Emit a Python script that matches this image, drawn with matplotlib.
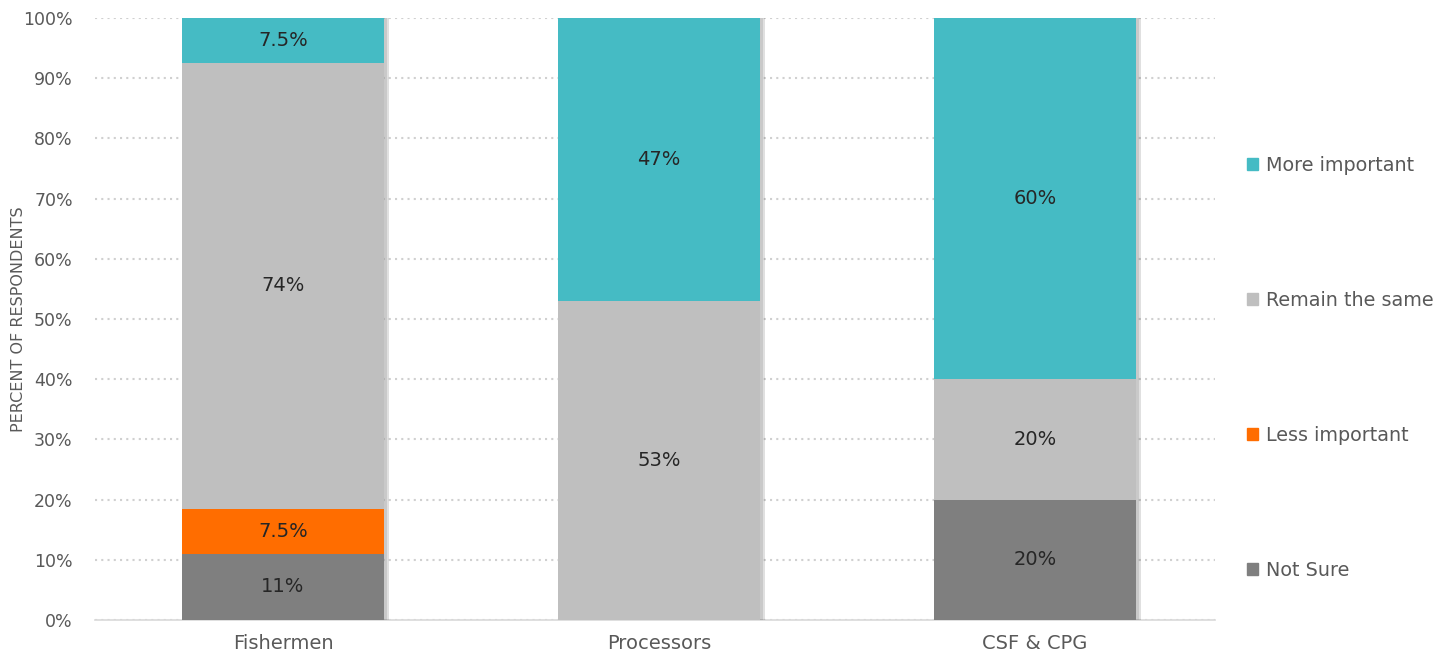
import numpy as np
import matplotlib
matplotlib.use('Agg')
import matplotlib.pyplot as plt
import matplotlib.patheffects as pe
from matplotlib.patches import Patch

# survey shares per group, percent
groups = ['Fishermen', 'Processors', 'CSF & CPG']
series = ['Not Sure', 'Less important', 'Remain the same', 'More important']
not_sure = [11, 0, 20]
less_important = [7.5, 0, 0]
remain_same = [74, 53, 20]
more_important = [7.5, 47, 60]
label_text = [['11%', '', '20%'],
              ['7.5%', '', ''],
              ['74%', '53%', '20%'],
              ['7.5%', '47%', '60%']]
colors = ['#7F7F7F', '#FF6D00', '#BFBFBF', '#45BBC4']

plt.rcParams['font.family'] = ['DejaVu Sans']
fig = plt.figure(figsize=(14.53, 6.63), dpi=100)
ax = fig.add_axes([0.0654, 0.0649, 0.7710, 0.9080])

x = np.arange(len(groups))
bottom = np.zeros(len(groups))
shadow = [pe.SimplePatchShadow(offset=(4, 0), shadow_rgbFace='#000000', alpha=0.12),
          pe.SimplePatchShadow(offset=(2, 0), shadow_rgbFace='#000000', alpha=0.10),
          pe.Normal()]
for vals, name, col, labs in zip([not_sure, less_important, remain_same, more_important],
                                 series, colors, label_text):
    vals = np.array(vals, dtype=float)
    bars = ax.bar(x, vals, 0.537, bottom=bottom, color=col, zorder=3)
    for b in bars:
        b.set_path_effects(shadow)
    for i, v in enumerate(vals):
        if v > 0 and labs[i]:
            ax.text(x[i], bottom[i] + v / 2, labs[i], ha='center', va='center',
                    fontsize=14, color='#262626', zorder=4)
    bottom += vals

ax.set_xlim(-0.5, 2.48)
ax.set_ylim(0, 100)
ax.set_yticks(np.arange(0, 101, 10))
ax.set_yticklabels([f'{t}%' for t in range(0, 101, 10)])
ax.set_xticks(x)
ax.set_xticklabels(groups)
ax.tick_params(axis='both', length=0, colors='#595959')
ax.tick_params(axis='x', pad=10, labelsize=14)
ax.tick_params(axis='y', pad=16, labelsize=12.5)
ax.yaxis.grid(True, linestyle=(0, (1.0, 2.0)), color='#D0D0D0', linewidth=1.5, zorder=0)
ax.set_axisbelow(True)
for s in ['top', 'right', 'left']:
    ax.spines[s].set_visible(False)
ax.spines['bottom'].set_color('#D9D9D9')
ax.spines['bottom'].set_linewidth(1.2)
ax.set_ylabel('PERCENT OF RESPONDENTS', fontsize=11.5, color='#595959')
ax.yaxis.set_label_coords(-0.062, 0.5)

handles = [Patch(color=c, label=n) for c, n in zip(colors, series)]
leg = ax.legend(handles=handles[::-1], loc='center left', bbox_to_anchor=(1.013, 0.4186),
                frameon=False, fontsize=13.8, labelspacing=6.05, handlelength=0.55,
                handleheight=0.55, handletextpad=0.45, labelcolor='#595959')

fig.savefig('out.png', dpi=100, facecolor='white')
